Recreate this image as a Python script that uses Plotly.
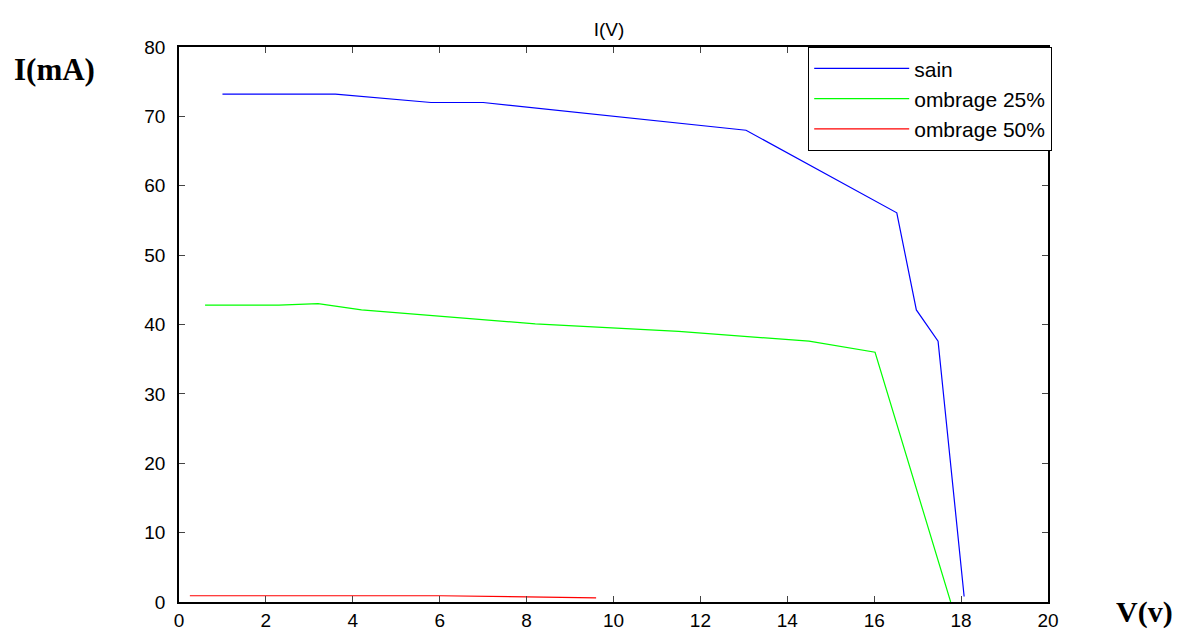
import plotly.graph_objects as go

# Data
v_sain = [1.0, 3.6, 5.8, 7.0, 13.05, 16.52, 16.97, 17.47, 18.07]
i_sain = [73.2, 73.2, 72.0, 72.0, 68.0, 56.1, 42.1, 37.6, 0.8]

v_omb25 = [0.6, 2.3, 3.2, 4.2, 8.2, 11.5, 14.5, 16.02, 17.76]
i_omb25 = [42.8, 42.8, 43.0, 42.1, 40.1, 39.0, 37.6, 36.0, 0.0]

v_omb50 = [0.25, 2.3, 6.0, 8.0, 9.6]
i_omb50 = [0.9, 0.9, 0.9, 0.75, 0.6]

names = ["sain", "ombrage 25%", "ombrage 50%"]
colors = ["#0000ff", "#00ff00", "#ff0000"]

x_ticks = list(range(0, 21, 2))
y_ticks = list(range(0, 81, 10))

W, H = 1183, 632
L, R, T, B = 179, 1048, 47, 602
pw, ph = R - L, B - T

fig = go.Figure()
for vx, iy, nm, col in zip([v_sain, v_omb25, v_omb50], [i_sain, i_omb25, i_omb50], names, colors):
    fig.add_trace(go.Scatter(x=vx, y=iy, mode="lines", name=nm, legendgroup=nm,
                             line=dict(color=col, width=1.2)))

axis_common = dict(showgrid=False, zeroline=False, showline=True, linecolor="black",
                   linewidth=1.5, mirror="ticks", ticks="inside", ticklen=6,
                   tickcolor="#444", tickwidth=1.2, automargin=False,
                   tickfont=dict(family="Liberation Sans, Arial", size=19, color="black"))

fig.update_layout(
    width=W, height=H,
    margin=dict(l=L, r=W - R, t=T, b=H - B),
    plot_bgcolor="white", paper_bgcolor="white",
    title=dict(text="I(V)", x=(609 - L) / pw, xref="paper", xanchor="center",
               y=1 - 29 / H, yanchor="middle",
               font=dict(family="Liberation Sans, Arial", size=19, color="black")),
    xaxis=dict(range=[0, 20], tickvals=x_ticks, ticklabelstandoff=0, **axis_common),
    yaxis=dict(range=[0, 80], tickvals=y_ticks, ticklabelstandoff=8, **axis_common),
    legend=dict(x=(1052 - L) / pw, xanchor="right", y=1, yanchor="top",
                bordercolor="black", borderwidth=1.2, bgcolor="white",
                font=dict(family="Liberation Sans, Arial", size=21, color="black"),
                itemwidth=95, tracegroupgap=0),
    showlegend=True,
)

fig.add_annotation(text="<b>I(mA)</b>", xref="paper", yref="paper",
                   x=(12 - L) / pw, xanchor="left", y=1 + (T - 69) / ph, yanchor="middle",
                   showarrow=False, font=dict(family="Liberation Serif, Times New Roman", size=31, color="black"))
fig.add_annotation(text="<b>V(v)</b>", xref="paper", yref="paper",
                   x=(1144 - L) / pw, xanchor="center", y=(B - 612) / ph, yanchor="middle",
                   showarrow=False, font=dict(family="Liberation Serif, Times New Roman", size=30, color="black"))

fig.write_html("out.html")
